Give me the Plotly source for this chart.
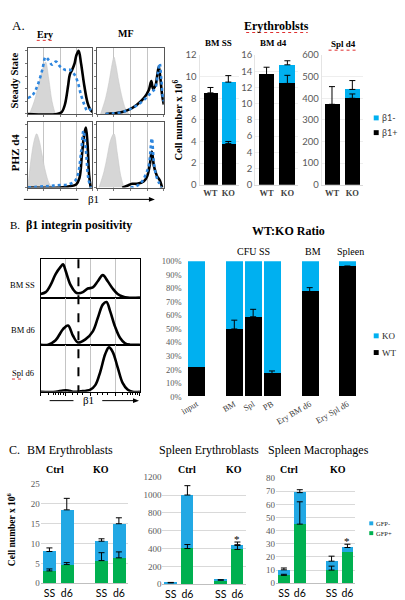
import plotly.graph_objects as go

# ======================= DATA =======================
# ---- Panel A: flow histograms (x = log decades 0-4, y = % of max)
ery_ss_iso_x = [0.1, 0.4, 0.7, 0.9, 1.1, 1.3, 1.5, 1.7]
ery_ss_iso_y = [0, 20, 50, 70, 82, 55, 20, 0]
ery_ss_wt_x = [0, 1.8, 2.1, 2.3, 2.5, 2.6, 2.75, 2.9, 3.0, 3.15, 3.3, 3.5, 3.7, 3.85, 4.0]
ery_ss_wt_y = [0, 0, 3, 15, 45, 62, 70, 80, 92, 100, 80, 45, 18, 8, 3]
ery_ss_ko_x = [0, 0.3, 0.6, 0.9, 1.1, 1.3, 1.5, 1.75, 2.0, 2.3, 2.6, 2.9, 3.1, 3.3, 3.5, 3.7, 3.9, 4.0]
ery_ss_ko_y = [25, 30, 45, 70, 90, 85, 78, 83, 75, 70, 70, 62, 50, 30, 15, 5, 8, 12]

mf_ss_iso_x = [0.2, 0.5, 0.7, 0.9, 1.0, 1.1, 1.3, 1.5, 1.7, 1.9]
mf_ss_iso_y = [0, 25, 50, 80, 90, 80, 50, 25, 8, 0]
mf_ss_wt_x = [0.5, 1.0, 1.5, 2.0, 2.4, 2.8, 3.1, 3.25, 3.35, 3.5, 3.6, 3.7, 3.8, 3.9, 4.0]
mf_ss_wt_y = [0, 1, 3, 8, 15, 25, 38, 52, 40, 45, 60, 75, 55, 30, 15]
mf_ss_ko_x = [0.5, 1.0, 1.5, 2.0, 2.4, 2.8, 3.1, 3.3, 3.5, 3.65, 3.75, 3.85, 3.95, 4.0]
mf_ss_ko_y = [0, 1, 3, 8, 14, 22, 30, 35, 42, 65, 80, 55, 25, 20]

ery_phz_iso_x = [0, 0.2, 0.4, 0.55, 0.7, 0.9, 1.1, 1.3, 1.5]
ery_phz_iso_y = [0, 45, 75, 85, 75, 50, 25, 8, 0]
ery_phz_wt_x = [0, 2.0, 2.6, 3.0, 3.2, 3.35, 3.5, 3.6, 3.7, 3.8, 3.9]
ery_phz_wt_y = [0, 0, 2, 5, 15, 50, 85, 95, 70, 20, 0]
ery_phz_ko_x = [0, 1.0, 1.5, 2.0, 2.5, 2.9, 3.1, 3.3, 3.45, 3.6, 3.75, 3.9]
ery_phz_ko_y = [0, 2, 3, 4, 5, 10, 20, 55, 90, 60, 15, 0]

mf_phz_iso_x = [0.1, 0.4, 0.6, 0.8, 1.0, 1.2, 1.4, 1.6]
mf_phz_iso_y = [0, 25, 50, 75, 85, 55, 20, 0]
mf_phz_wt_x = [1.5, 1.8, 2.1, 2.4, 2.8, 3.0, 3.15, 3.28, 3.4, 3.5, 3.6, 3.75, 3.9]
mf_phz_wt_y = [0, 3, 6, 6, 10, 18, 35, 57, 35, 25, 18, 12, 0]
mf_phz_ko_x = [2.0, 2.4, 2.7, 2.9, 3.1, 3.28, 3.4, 3.55, 3.7, 3.85]
mf_phz_ko_y = [0, 3, 10, 20, 35, 78, 40, 18, 8, 0]

# ---- Panel A: Erythroblast counts (x10^6), beta1+ (black) and total (beta1+ + beta1-)
a_genotypes = ["WT", "KO"]
bm_ss_pos = [8.5, 3.8]
bm_ss_pos_err = [0.5, 0.2]
bm_ss_total = [8.5, 9.5]
bm_ss_total_err = [None, 0.6]
bm_d4_pos = [13.6, 12.5]
bm_d4_pos_err = [0.9, 1.0]
bm_d4_total = [13.6, 14.8]
bm_d4_total_err = [None, 0.5]
spl_d4_pos = [372, 400]
spl_d4_pos_err = [82, 20]
spl_d4_total = [372, 441]
spl_d4_total_err = [None, 41]

# ---- Panel B: beta1 integrin histograms
b_bmss_x = [0, 0.2, 0.4, 0.6, 0.8, 0.9, 1.0, 1.2, 1.4, 1.5, 1.7, 1.9, 2.1, 2.3, 2.5, 2.7, 2.9, 3.1, 3.3, 3.5, 4.0]
b_bmss_y = [10, 15, 35, 65, 85, 92, 75, 35, 15, 12, 15, 25, 28, 45, 62, 45, 25, 10, 3, 0, 0]
b_bmd6_x = [0, 0.3, 0.6, 0.9, 1.1, 1.3, 1.5, 1.8, 2.1, 2.3, 2.5, 2.65, 2.8, 3.0, 3.2, 3.4, 3.6, 4.0]
b_bmd6_y = [0, 0, 10, 35, 43, 20, 5, 12, 30, 60, 90, 96, 75, 40, 15, 3, 0, 0]
b_spld6_x = [0, 0.6, 0.9, 1.1, 1.3, 1.6, 2.0, 2.2, 2.4, 2.6, 2.75, 2.9, 3.1, 3.3, 3.5, 3.7, 4.0]
b_spld6_y = [0, 0, 3, 3, 0, 1, 5, 15, 45, 85, 100, 90, 55, 20, 5, 0, 0]
b_threshold = 1.52

# ---- Panel B: WT:KO ratio (%)
ratio_labels = ["input", "BM", "Spl", "PB", "Ery BM d6", "Ery Spl d6"]
ratio_pos = [0, 2, 3, 4, 6, 8]
ratio_wt = [22, 50, 59, 17, 77.5, 96]
ratio_wt_err = [None, 6.5, 5.5, 2, 3, 0.5]
ratio_total = [100, 100, 100, 100, 100, 100]
ratio_groups = ["CFU SS", "BM", "Spleen"]

# ---- Panel C: GFP+ (green) and total (GFP+ + GFP-)
c_labels = ["SS", "d6", "SS", "d6"]
c_pos = [0, 1, 3, 4]
c_bm_gfp = [3.1, 4.7, 5.7, 6.4]
c_bm_gfp_err = [0.5, 0.5, 2.0, 1.5]
c_bm_total = [8.0, 18.5, 10.6, 15.0]
c_bm_total_err = [0.9, 2.9, 0.6, 1.5]
c_spl_gfp = [8, 400, 38, 390]
c_spl_gfp_err = [None, 45, None, 45]
c_spl_total = [15, 1000, 45, 443]
c_spl_total_err = [5, 105, 5, 30]
c_mac_gfp = [6.0, 45, 10, 23.5]
c_mac_gfp_err = [0.8, 17, 3, None]
c_mac_total = [10.2, 69, 16.8, 27.2]
c_mac_total_err = [1.4, 2.2, 3.8, 2.5]

# ======================= STYLE / LAYOUT =======================
W, H = 405, 600
SERIF = "Liberation Serif"
SANS = "Lato"
BLUE = "#00B0F0"
BLUE_C = "#22A8E4"
GREEN = "#00B050"
FLOWBLUE = "#2E86DE"
TICKGRAY = "#595959"

def px(x):
    return x / W

def py(y):
    return 1 - y / H

fig = go.Figure()
lay = {}
annots = []
shapes = []

def xn(n):
    return "x" if n == 1 else f"x{n}"

def yn(n):
    return "y" if n == 1 else f"y{n}"

def set_axes(n, x0, x1, y0, y1, xa, ya):
    xa = dict(xa)
    ya = dict(ya)
    xa.update(domain=[x0 / W, x1 / W], anchor=yn(n), fixedrange=True)
    ya.update(domain=[1 - y1 / H, 1 - y0 / H], anchor=xn(n), fixedrange=True)
    lay["xaxis" if n == 1 else f"xaxis{n}"] = xa
    lay["yaxis" if n == 1 else f"yaxis{n}"] = ya

def ann(text, x, y, size, family=SERIF, color="black", angle=0, xanchor="center", bold=False):
    if bold:
        text = f"<b>{text}</b>"
    annots.append(dict(text=text, x=px(x), y=py(y), xref="paper", yref="paper",
                       showarrow=False, font=dict(family=family, size=size, color=color),
                       textangle=angle, xanchor=xanchor, yanchor="middle"))

def hline(x0, x1, y, color="black", width=1, dash="solid"):
    shapes.append(dict(type="line", xref="paper", yref="paper", x0=px(x0), x1=px(x1),
                       y0=py(y), y1=py(y), line=dict(color=color, width=width, dash=dash)))

def squiggle(x0, x1, y):
    # red spell-check underline seen in the reference
    hline(x0, x1, y, color="#E03030", width=1, dash="dot")

def arrow(x_tail, x_head, y):
    hline(x_tail, x_head - 4, y)
    shapes.append(dict(type="path", xref="paper", yref="paper",
                       path=f"M {px(x_head)} {py(y)} L {px(x_head - 6)} {py(y - 2.5)} L {px(x_head - 6)} {py(y + 2.5)} Z",
                       fillcolor="black", line=dict(width=0)))

def square(xc, yc, s, color):
    shapes.append(dict(type="rect", xref="paper", yref="paper", x0=px(xc - s / 2), x1=px(xc + s / 2),
                       y0=py(yc + s / 2), y1=py(yc - s / 2), fillcolor=color, line=dict(width=0)))

def flow_axes(n, x0, x1, y0, y1):
    xa = dict(range=[0, 4], showgrid=True, gridcolor="#C4C4C4", gridwidth=1, tickvals=[0, 1, 2, 3, 4],
              ticks="outside", ticklen=2, tickcolor="#777", showticklabels=False, showline=True,
              mirror=True, linecolor="#555", linewidth=1, zeroline=False)
    ya = dict(range=[0, 104], showgrid=False, tickvals=[0, 20, 40, 60, 80, 100], ticks="outside",
              ticklen=2, tickcolor="#777", showticklabels=False, showline=True, mirror=True,
              linecolor="#555", linewidth=1, zeroline=False)
    set_axes(n, x0, x1, y0, y1, xa, ya)

def flow_traces(n, iso, wt, ko):
    fig.add_trace(go.Scatter(x=iso[0], y=iso[1], mode="lines", fill="tozeroy", fillcolor="#D6D6D6",
                             line=dict(color="#C8C8C8", width=0.6, shape="spline"),
                             xaxis=xn(n), yaxis=yn(n), hoverinfo="skip"))
    fig.add_trace(go.Scatter(x=wt[0], y=wt[1], mode="lines", line=dict(color="black", width=2.6, shape="spline"),
                             xaxis=xn(n), yaxis=yn(n), hoverinfo="skip"))
    fig.add_trace(go.Scatter(x=ko[0], y=ko[1], mode="lines",
                             line=dict(color=FLOWBLUE, width=2.6, dash="dot", shape="spline"),
                             xaxis=xn(n), yaxis=yn(n), hoverinfo="skip"))

def err_trace(n, xs, ys, errs, width=3):
    ex = [x for x, e in zip(xs, errs) if e is not None]
    ey = [y for y, e in zip(ys, errs) if e is not None]
    ee = [e for e in errs if e is not None]
    fig.add_trace(go.Scatter(x=ex, y=ey, mode="markers", marker=dict(size=1, opacity=0),
                             error_y=dict(type="data", array=ee, symmetric=False, arrayminus=[0] * len(ee),
                                          color="black", thickness=1, width=width),
                             xaxis=xn(n), yaxis=yn(n), hoverinfo="skip"))

def stacked(n, xs, base, total, base_err, total_err, cb, ct, width, capw=3):
    top = [t - b for t, b in zip(total, base)]
    fig.add_trace(go.Bar(x=xs, y=base, marker=dict(color=cb, line=dict(width=0)), width=width,
                         xaxis=xn(n), yaxis=yn(n), hoverinfo="skip"))
    fig.add_trace(go.Bar(x=xs, y=top, marker=dict(color=ct, line=dict(width=0)), width=width,
                         xaxis=xn(n), yaxis=yn(n), hoverinfo="skip"))
    err_trace(n, xs, base, base_err, capw)
    err_trace(n, xs, total, total_err, capw)

# ---------------- Panel A flow ----------------
flow_axes(1, 25, 90, 43, 110)
flow_traces(1, (ery_ss_iso_x, ery_ss_iso_y), (ery_ss_wt_x, ery_ss_wt_y), (ery_ss_ko_x, ery_ss_ko_y))
flow_axes(2, 95, 162, 43, 110)
flow_traces(2, (mf_ss_iso_x, mf_ss_iso_y), (mf_ss_wt_x, mf_ss_wt_y), (mf_ss_ko_x, mf_ss_ko_y))
flow_axes(3, 25, 90, 118, 185)
flow_traces(3, (ery_phz_iso_x, ery_phz_iso_y), (ery_phz_wt_x, ery_phz_wt_y), (ery_phz_ko_x, ery_phz_ko_y))
flow_axes(4, 95, 162, 118, 185)
flow_traces(4, (mf_phz_iso_x, mf_phz_iso_y), (mf_phz_wt_x, mf_phz_wt_y), (mf_phz_ko_x, mf_phz_ko_y))

ann("A.", 16, 20, 13)
ann("Ery", 42, 29, 10, bold=True)
squiggle(34, 51, 35)
ann("MF", 124, 28, 10, bold=True)
ann("Steady State", 12, 76, 10.5, bold=True, angle=-90)
ann("PHZ d4", 12, 149, 11, bold=True, angle=-90)
hline(21, 76, 197)
ann("β1", 91, 197, 11)
arrow(107, 153, 197)

# ---------------- Panel A bars ----------------
def a_bar_axes(n, x0, x1, rng, ymax, dtick):
    xa = dict(range=rng, tickvals=[0, 1], ticktext=[f"<b>{g}</b>" for g in a_genotypes],
              tickfont=dict(family=SERIF, size=8.5, color="#404040"), showline=True,
              linecolor="#D9D9D9", ticks="", showgrid=False, zeroline=False)
    ya = dict(range=[0, ymax], dtick=dtick, tickfont=dict(family=SANS, size=9.5, color=TICKGRAY),
              showgrid=True, gridcolor="#EEEEEE", zeroline=False, showline=True, linecolor="#E4E4E4", ticks="")
    set_axes(n, x0, x1, 50, 182, xa, ya)

a_xs = [0, 1]
a_bar_axes(5, 198, 238, [-0.61, 1.61], 12, 2)
stacked(5, a_xs, bm_ss_pos, bm_ss_total, bm_ss_pos_err, bm_ss_total_err, "black", BLUE, 0.78)
a_bar_axes(6, 254, 297, [-0.55, 1.5], 16, 2)
stacked(6, a_xs, bm_d4_pos, bm_d4_total, bm_d4_pos_err, bm_d4_total_err, "black", BLUE, 0.76)
a_bar_axes(7, 321, 363, [-0.51, 1.54], 600, 100)
stacked(7, a_xs, spl_d4_pos, spl_d4_total, spl_d4_pos_err, spl_d4_total_err, "black", BLUE, 0.76)

ann("Erythroblsts", 276, 20, 12, bold=True)
squiggle(245, 307, 27)
ann("BM SS", 217, 38, 9, bold=True)
ann("BM d4", 273, 38, 9, bold=True)
ann("Spl d4", 343, 39, 9, bold=True)
squiggle(328, 358, 45)
ann("Cell number x 10<sup>6</sup>", 176, 116, 10.5, bold=True, angle=-90)
square(376, 114, 5, BLUE)
ann("β1-", 380, 114, 9, family=SANS, color="#404040", xanchor="left")
square(376, 129, 5, "black")
ann("β1+", 380, 129, 9, family=SANS, color="#404040", xanchor="left")

# ---------------- Panel B histograms ----------------
def b_hist_axes(n, y0, y1, bottom):
    xa = dict(range=[0, 4], showgrid=True, gridcolor="#C4C4C4", tickvals=[1, 2, 3] if not bottom else [0, 1, 2, 3, 4],
              ticks="outside" if bottom else "", ticklen=3, tickcolor="black", showticklabels=False,
              showline=True, mirror=True, linecolor="black", linewidth=1, zeroline=False)
    if bottom:
        xa["minor"] = dict(tickvals=[0.3, 0.5, 0.6, 0.7, 0.8, 0.9, 1.3, 1.5, 1.7, 2.3, 2.5, 2.7,
                                     3.3, 3.5, 3.6, 3.7, 3.8, 3.9],
                           ticks="outside", ticklen=2, tickcolor="black", showgrid=False)
    ya = dict(range=[0, 106], showgrid=False, showticklabels=False, ticks="", showline=True,
              mirror=True, linecolor="black", linewidth=1, zeroline=False)
    set_axes(n, 38, 138, y0, y1, xa, ya)

b_hist_axes(8, 258, 297, False)
b_hist_axes(9, 297, 345, False)
b_hist_axes(10, 345, 393, True)
for n, (hx, hy) in zip([8, 9, 10], [(b_bmss_x, b_bmss_y), (b_bmd6_x, b_bmd6_y), (b_spld6_x, b_spld6_y)]):
    fig.add_trace(go.Scatter(x=hx, y=hy, mode="lines", line=dict(color="black", width=2.6, shape="spline"),
                             xaxis=xn(n), yaxis=yn(n), hoverinfo="skip"))
shapes.append(dict(type="line", xref="paper", yref="paper",
                   x0=px(38 + b_threshold / 4 * 100), x1=px(38 + b_threshold / 4 * 100),
                   y0=py(258), y1=py(393), line=dict(color="black", width=2, dash="dash")))

ann("B.", 12, 223, 11)
ann("β1 integrin positivity", 77, 223, 12, bold=True)
ann("BM SS", 20, 284, 8.5)
ann("BM d6", 20, 330, 8.5)
ann("Spl d6", 20, 374, 8.5)
squiggle(9, 21, 380)
hline(47, 71, 402)
ann("β1", 86, 401, 11)
arrow(100, 137, 402)

# ---------------- Panel B ratio ----------------
xa = dict(range=[-0.74, 8.74], tickvals=ratio_pos, ticktext=ratio_labels, tickangle=-30,
          tickfont=dict(family=SERIF, size=8.5, color="#404040"), showline=False, ticks="",
          showgrid=False, zeroline=False)
ya = dict(range=[0, 100], dtick=10, ticksuffix="%", tickfont=dict(family=SERIF, size=8.5, color=TICKGRAY),
          showgrid=False, zeroline=False, showline=False, ticks="")
set_axes(11, 181, 361, 260, 398, xa, ya)
stacked(11, ratio_pos, ratio_wt, ratio_total, ratio_wt_err, [None] * 6, "black", BLUE, 0.9)

ann("WT:KO Ratio", 288, 229, 12, bold=True)
for g, gx in zip(ratio_groups, [252, 312, 350]):
    ann(g, gx, 250, 10)
square(376, 336, 5, BLUE)
ann("KO", 380, 336, 9, xanchor="left", color="#262626")
square(376, 353, 5, "black")
ann("WT", 380, 353, 9, xanchor="left", color="#262626")

# ---------------- Panel C ----------------
def c_axes(n, x0, x1, y0, y1, ymax, dtick):
    xa = dict(range=[-0.5, 4.5], tickvals=c_pos, ticktext=c_labels,
              tickfont=dict(family=SANS, size=10.5, color="black"), showline=True, linecolor="#BFBFBF",
              ticks="", showgrid=False, zeroline=False)
    ya = dict(range=[0, ymax], dtick=dtick, tickfont=dict(family=SERIF, size=9, color=TICKGRAY),
              showgrid=True, gridcolor="#D9D9D9", zeroline=False, showline=False, ticks="")
    set_axes(n, x0, x1, y0, y1, xa, ya)

c_axes(12, 38, 125.5, 487, 588, 25, 5)
stacked(12, c_pos, c_bm_gfp, c_bm_total, c_bm_gfp_err, c_bm_total_err, GREEN, BLUE_C, 0.75)
c_axes(13, 160.6, 244.6, 480, 589, 1200, 200)
stacked(13, c_pos, c_spl_gfp, c_spl_total, c_spl_gfp_err, c_spl_total_err, GREEN, BLUE_C, 0.77)
c_axes(14, 275, 355, 481, 588, 80, 10)
stacked(14, c_pos, c_mac_gfp, c_mac_total, c_mac_gfp_err, c_mac_total_err, GREEN, BLUE_C, 0.75)

# significance asterisks above KO d6
annots.append(dict(text="*", x=c_pos[3], y=c_spl_total[3] + c_spl_total_err[3], xref="x13", yref="y13",
                   showarrow=False, yanchor="bottom", yshift=-5, font=dict(family=SERIF, size=11, color="black")))
annots.append(dict(text="*", x=c_pos[3], y=c_mac_total[3] + c_mac_total_err[3], xref="x14", yref="y14",
                   showarrow=False, yanchor="bottom", yshift=-5, font=dict(family=SERIF, size=11, color="black")))

ann("C.", 12, 452, 12)
ann("BM Erythroblasts", 68, 452, 12)
ann("Spleen Erythroblasts", 208, 452, 12)
ann("Spleen Macrophages", 318, 452, 12)
for cx, kx in [(52, 99), (185, 233), (288, 337)]:
    ann("Ctrl", cx, 472, 10, bold=True)
    ann("KO", kx, 472, 10, bold=True)
ann("Cell number x 10<sup>6</sup>", 8, 533, 9.5, bold=True, angle=-90)
square(371, 527, 4, BLUE_C)
ann("GFP-", 373.5, 527, 6.5, xanchor="left", color="#262626")
square(371, 537, 4, GREEN)
ann("GFP+", 373.5, 537, 6.5, xanchor="left", color="#262626")

lay.update(width=W, height=H, margin=dict(l=0, r=0, t=0, b=0), paper_bgcolor="white",
           plot_bgcolor="white", showlegend=False, barmode="stack", bargap=0,
           annotations=annots, shapes=shapes)
fig.update_layout(**lay)
fig.write_html("out.html", config={"displayModeBar": False},
               post_script="document.body.style.margin='0';document.body.style.overflow='hidden';")
with open("out.html", "r", encoding="utf-8") as f:
    page = f.read()
page = page.replace("<body>", '<body style="margin:0;padding:0;overflow:hidden">', 1)
with open("out.html", "w", encoding="utf-8") as f:
    f.write(page)
